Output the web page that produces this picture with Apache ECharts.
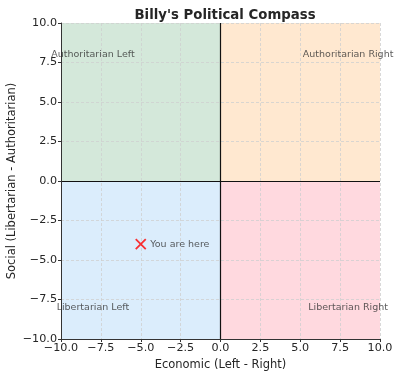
<!DOCTYPE html>
<html>
<head>
<meta charset="utf-8">
<script src="https://cdn.jsdelivr.net/npm/echarts@6/dist/echarts.min.js"></script>
<style>
  html, body { margin: 0; padding: 0; background: #fff; }
  #chart { width: 400px; height: 376px; }
</style>
</head>
<body>
<div id="chart"></div>
<script>
// Quadrants: [xMin, yMin, xMax, yMax]
const quadrantNames = ["Authoritarian Left", "Authoritarian Right", "Libertarian Left", "Libertarian Right"];
const quadrantBounds = [
  [-10, 0, 0, 10],
  [0, 0, 10, 10],
  [-10, -10, 0, 0],
  [0, -10, 10, 0],
];
const quadrantColors = ["#d4e8da", "#ffe8d0", "#dbedfc", "#ffd9df"];
const labelPositions = [[-8, 8], [8, 8], [-8, -8], [8, -8]];
const youPoint = [-5, -4];
const youLabel = "You are here";
const axisMin = -10, axisMax = 10, axisStep = 2.5;

const font = "DejaVu Sans";
const fmt = v => (v < 0 ? "\u2212" : "") + Math.abs(v).toFixed(1);

const chart = echarts.init(document.getElementById("chart"));

const axisCommon = {
  type: "value", min: axisMin, max: axisMax, interval: axisStep,
  nameLocation: "middle",
  nameMoveOverlap: false,
  nameTextStyle: { fontFamily: font, fontSize: 11.5, color: "#262626" },
  axisLine: { show: true, onZero: false, lineStyle: { color: "#333", width: 1 } },
  axisTick: { show: true, length: 3, lineStyle: { color: "#333" } },
  axisLabel: { fontFamily: font, fontSize: 11.2, color: "#262626", margin: 4, formatter: fmt },
  splitLine: { show: true, lineStyle: { color: "#cfcfcf", type: [3, 2], width: 0.8 } },
  z: 5,
};

const option = {
  animation: false,
  title: {
    text: "Billy's Political Compass",
    left: 220, top: 4, textAlign: "center",
    textStyle: { fontFamily: font, fontSize: 13.3, fontWeight: "bold", color: "#262626" },
  },
  grid: { left: 61, right: 20, top: 23, bottom: 37, outerBoundsMode: "none", containLabel: false },
  xAxis: Object.assign({}, axisCommon, { name: "Economic (Left - Right)", nameGap: 20 }),
  yAxis: Object.assign({}, axisCommon, { name: "Social (Libertarian - Authoritarian)", nameGap: 43 }),
  series: [
    {
      type: "scatter",
      data: [],
      silent: true,
      z: 1,
      markArea: {
        silent: true,
        data: quadrantBounds.map((b, i) => [
          { coord: [b[0], b[1]], itemStyle: { color: quadrantColors[i], opacity: 1 } },
          { coord: [b[2], b[3]] },
        ]),
      },
    },
    {
      type: "scatter",
      data: [],
      silent: true,
      z: 10,
      markLine: {
        silent: true,
        symbol: "none",
        label: { show: false },
        lineStyle: { color: "#111", type: "solid", width: 1.2 },
        data: [{ xAxis: 0 }, { yAxis: 0 }],
      },
    },
    {
      type: "scatter",
      symbolSize: 0,
      z: 11,
      data: labelPositions.map((p, i) => ({ value: p, name: quadrantNames[i] })),
      label: {
        show: true, position: "inside", formatter: "{b}",
        fontFamily: font, fontSize: 9.5, color: "#333",
      },
    },
    {
      type: "scatter",
      z: 12,
      symbol: "path://M0,0 L10,10 M10,0 L0,10",
      symbolSize: 10,
      itemStyle: { color: "none", borderColor: "#ff0000", borderWidth: 1.8 },
      data: [{ value: youPoint, name: youLabel }],
      label: {
        show: true, position: "right", distance: 2, formatter: "{b}",
        fontFamily: font, fontSize: 9.5, color: "#333",
      },
    },
  ],
};

chart.setOption(option);
</script>
</body>
</html>
